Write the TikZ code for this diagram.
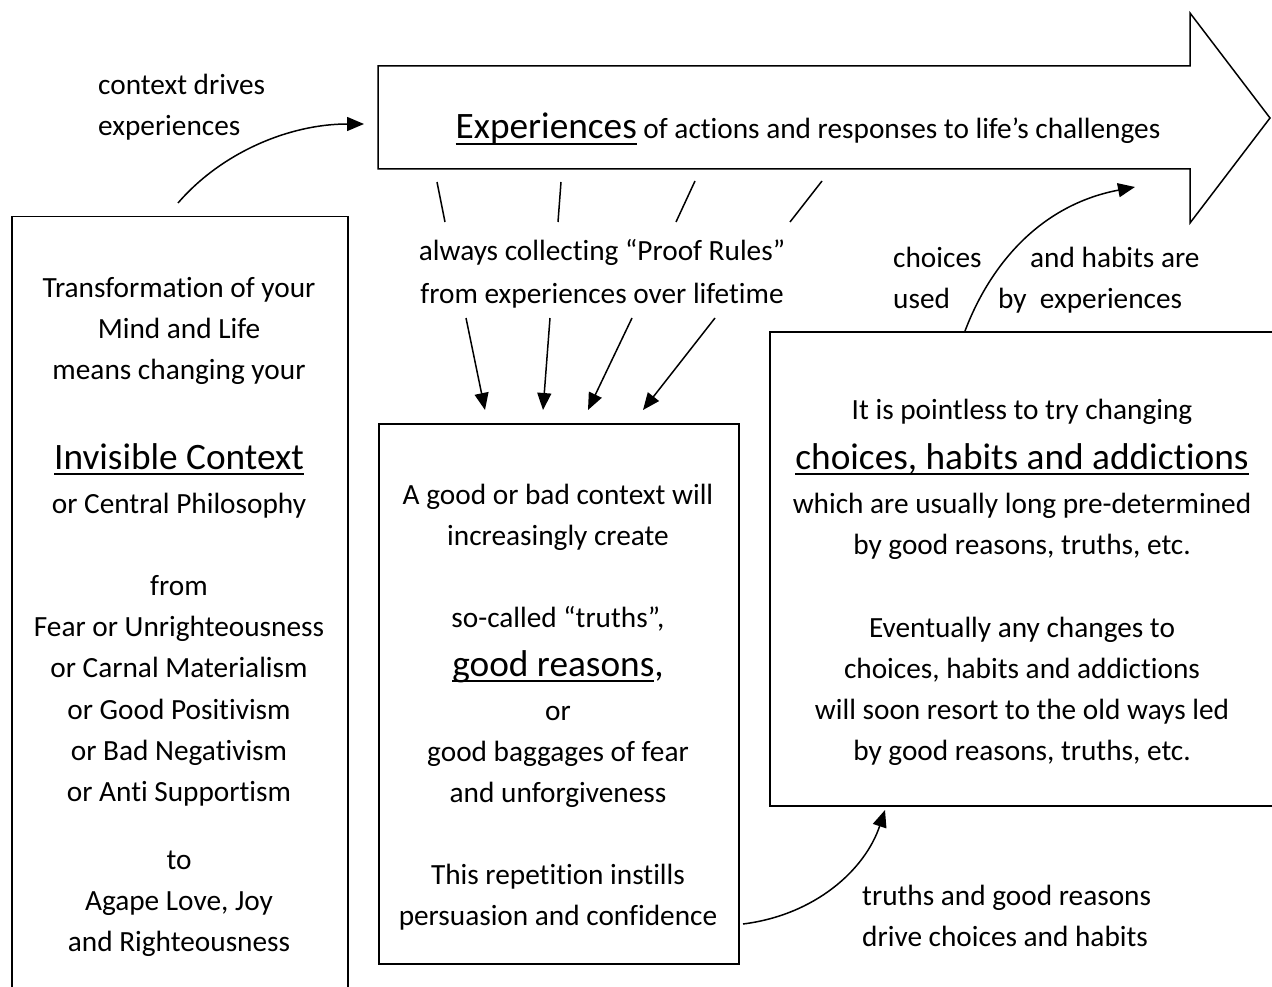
\documentclass[tikz,border=0pt]{standalone}
\usepackage{fontspec}
\setmainfont{Carlito}[Ligatures={NoCommon}]
\usetikzlibrary{arrows.meta}
\newcommand\fsm{\fontsize{29.3pt}{41pt}\selectfont}
\newcommand\flg{\fontsize{37.3pt}{52pt}\selectfont}
\newcommand\ulx[1]{\setbox0\hbox{#1}\rlap{\rule[-6pt]{\wd0}{1.8pt}}\box0}
\newcommand\lgu[1]{{\flg\ulx{#1}}}
\begin{document}
\begin{tikzpicture}[x=1pt,y=-1pt,
  box/.style={draw, line width=1.5pt},
  txt/.style={anchor=base, inner sep=0pt, font=\fsm},
  txl/.style={anchor=base west, inner sep=0pt, font=\fsm},
  con/.style={line width=1.5pt},
  arr/.style={line width=1.5pt, -{Triangle[length=17pt,width=14pt]}}]
\useasboundingbox (0,0) rectangle (1272,987);
\fill[white] (0,0) rectangle (1272,987);

% big arrow
\draw[box, line join=miter] (378,66) -- (1190,66) -- (1190,13) -- (1270,118) -- (1190,223) -- (1190,169) -- (378,169) -- cycle;
\node[txt] (exp) at (808,139) {\lgu{Experiences} of actions and responses to life’s challenges};

% boxes
\node[box, minimum width=336pt, minimum height=800pt, anchor=north west] (ctx) at (11,216) {};
\node[box, minimum width=360pt, minimum height=540pt, anchor=north west] (mid) at (378,423) {};
\node[box, minimum width=540pt, minimum height=474pt, anchor=north west] (rgt) at (769,331) {};

% left box text
\foreach \ty/\tx [count=\i] in {297/{Transformation of your}, 338/{Mind and Life}, 379/{means changing your},
  469/{\lgu{Invisible Context}}, 513/{or Central Philosophy}, 595/{from}, 636/{Fear or Unrighteousness},
  677/{or Carnal Materialism}, 719/{or Good Positivism}, 760/{or Bad Negativism}, 801/{or Anti Supportism},
  869/{to}, 910/{Agape Love, Joy}, 951/{and Righteousness}}
  \node[txt] (L\i) at (179,\ty) {\tx};

% middle box text
\foreach \ty/\tx [count=\i] in {504/{A good or bad context will}, 545/{increasingly create},
  627/{so-called “truths”,}, 676/{{\flg\ulx{good reasons},}}, 720/{or}, 761/{good baggages of fear},
  802/{and unforgiveness}, 884/{This repetition instills}, 925/{persuasion and confidence}}
  \node[txt] (M\i) at (558,\ty) {\tx};

% right box text
\foreach \ty/\tx [count=\i] in {419/{It is pointless to try changing}, 469/{\lgu{choices, habits and addictions}},
  513/{which are usually long pre-determined}, 554/{by good reasons, truths, etc.},
  637/{Eventually any changes to}, 678/{choices, habits and addictions},
  719/{will soon resort to the old ways led}, 760/{by good reasons, truths, etc.}}
  \node[txt] (R\i) at (1022,\ty) {\tx};

% free labels
\node[txl] (cd1) at (98,95) {context drives};
\node[txl] (cd2) at (98,136) {experiences};
\node[txt] (pr1) at (602,261) {always collecting “Proof Rules”};
\node[txt] (pr2) at (602,303) {from experiences over lifetime};
\node[txl] (ch1) at (893,267) {choices};
\node[txl] (ch2) at (893,308) {used};
\node[txl] (ch3) at (1030,267) {and habits are};
\node[txl] (ch4) at (998,308) {by\ \ experiences};
\node[txl] (tr1) at (862,905) {truths and good reasons};
\node[txl] (tr2) at (862,946) {drive choices and habits};

% proof-rule lines from the experiences arrow
\coordinate (p1a) at (437,182); \coordinate (p1b) at (445,222);
\coordinate (p2a) at (561,182); \coordinate (p2b) at (558,222);
\coordinate (p3a) at (695,181); \coordinate (p3b) at (676,222);
\coordinate (p4a) at (822,181); \coordinate (p4b) at (790,222);
\draw[con] (p1a) -- (p1b);
\draw[con] (p2a) -- (p2b);
\draw[con] (p3a) -- (p3b);
\draw[con] (p4a) -- (p4b);

% arrows into the middle box
\coordinate (q1a) at (466,318); \coordinate (q1b) at (485,410);
\coordinate (q2a) at (550,318); \coordinate (q2b) at (543,410);
\coordinate (q3a) at (632,318); \coordinate (q3b) at (588,410);
\coordinate (q4a) at (715,318); \coordinate (q4b) at (643,410);
\draw[arr] (q1a) -- (q1b);
\draw[arr] (q2a) -- (q2b);
\draw[arr] (q3a) -- (q3b);
\draw[arr] (q4a) -- (q4b);

% curved connectors
\coordinate (c1s) at (178,203); \coordinate (c1e) at (364,124);
\draw[arr] (c1s) .. controls (222,152) and (290,124) .. (c1e);
\coordinate (c2s) at (965,331); \coordinate (c2e) at (1135,187);
\draw[arr] (c2s) .. controls (990,265) and (1040,205) .. (c2e);
\coordinate (c3s) at (743,924); \coordinate (c3e) at (885,810);
\draw[arr] (c3s) .. controls (815,915) and (865,870) .. (c3e);
\end{tikzpicture}
\end{document}
